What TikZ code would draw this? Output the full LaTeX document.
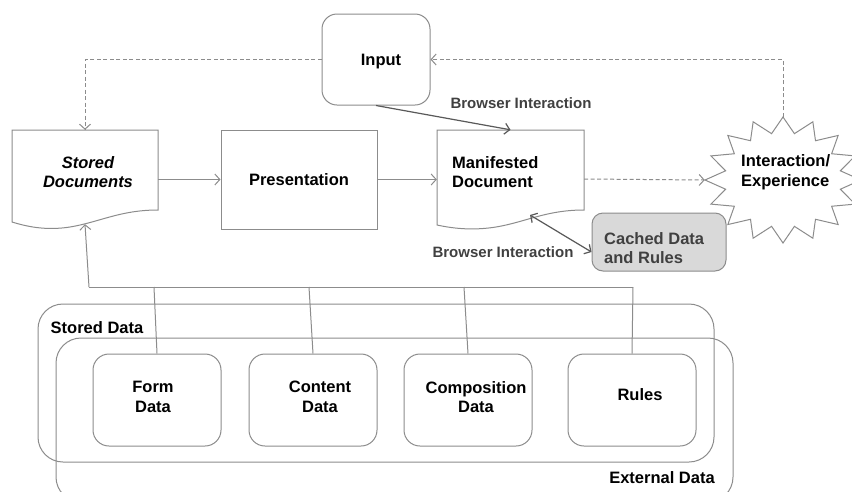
\documentclass[tikz,border=0pt]{standalone}
\usepackage{fontspec}
\setmainfont{Liberation Sans}
\usetikzlibrary{arrows.meta,calc}
\definecolor{ln}{HTML}{8C8C8C}
\definecolor{dk}{HTML}{595959}
\definecolor{tx}{HTML}{404040}
\definecolor{cf}{HTML}{D9D9D9}
\begin{document}
\begin{tikzpicture}[x=1pt,y=-1pt,
  lbl/.style={font=\fontsize{16.5}{19.5}\selectfont\bfseries, inner sep=0pt},
  bilbl/.style={font=\fontsize{15}{18}\selectfont\bfseries, text=tx, inner sep=0pt},
  ghost/.style={draw=none, inner sep=0pt},
  sqbox/.style={draw=ln, line width=1pt, inner sep=0pt},
  rbox/.style={draw=ln, line width=1pt, inner sep=0pt, rounded corners=16pt},
  line/.style={draw=ln, line width=1pt},
  arr/.style={draw=ln, line width=1pt, -{Straight Barb[length=5pt,width=11pt]}},
  darr/.style={draw=ln, line width=1pt, dash pattern=on 4pt off 2.5pt, -{Straight Barb[length=5pt,width=11pt]}},
  barr/.style={draw=dk, line width=1.2pt, -{Straight Barb[length=5pt,width=11pt]}},
  bbarr/.style={draw=dk, line width=1.2pt, {Straight Barb[length=5pt,width=11pt]}-{Straight Barb[length=5pt,width=11pt]}},
]
\useasboundingbox (0,0) rectangle (852,491);
\clip (0,0) rectangle (852,491);
\fill[white] (0,0) rectangle (852,491);

% ---- bottom containers
\draw[line, rounded corners=25pt] (38,304) rectangle (714,462);
\draw[line, rounded corners=25pt] (56,338) rectangle (733,502);
\node[lbl, anchor=center] (sdlbl) at (97,328) {Stored Data};
\node[lbl, anchor=center] (edlbl) at (662,478) {External Data};

% ---- inner data boxes
\node[rbox, minimum width=128pt, minimum height=92pt] (form) at (157,400) {};
\node[rbox, minimum width=128pt, minimum height=92pt] (content) at (313,400) {};
\node[rbox, minimum width=128pt, minimum height=92pt] (comp) at (468,400) {};
\node[rbox, minimum width=128pt, minimum height=92pt] (rules) at (632,400) {};
\node[lbl, align=center] (formt) at (153,397) {Form\\Data};
\node[lbl, align=center] (contentt) at (320,397) {Content\\Data};
\node[lbl, align=center] (compt) at (476,397) {Composition\\Data};
\node[lbl, align=center] (rulest) at (640,395) {Rules};

% ---- stored documents (document shape)
\node[ghost, minimum width=146pt, minimum height=94pt] (sd) at (85,177) {};
\draw[line] (12,130) -- (158,130) -- (158,210)
  .. controls (120,210) and (100,222) .. (70,227)
  .. controls (45,231) and (25,226) .. (12,222) -- cycle;
\node[lbl, align=center, font=\fontsize{16.5}{19.5}\selectfont\bfseries\itshape] (sdt) at (88,172) {Stored\\Documents};

% ---- presentation
\node[sqbox, minimum width=156pt, minimum height=99pt, lbl] (pres) at (299,179.5) {Presentation};

% ---- manifested document
\node[ghost, minimum width=147pt, minimum height=98pt] (man) at (510.5,179) {};
\draw[line] (437,130) -- (584,130) -- (584,210)
  .. controls (546,210) and (526,222) .. (496,227)
  .. controls (471,231) and (451,228) .. (437,225) -- cycle;
\node[lbl, align=left, anchor=west] (mant) at (452,172) {Manifested\\Document};
\coordinate (mw) at (530,215);

% ---- input
\node[rbox, rounded corners=15pt, minimum width=108pt, minimum height=91pt] (input) at (376,59.5) {};
\node[lbl] (inputt) at (381,62) {Input};

% ---- interaction / experience star
\node[ghost, minimum width=156pt, minimum height=126pt] (inter) at (783,180) {};
\draw[line] plot[samples at={0,...,31}]
  ({783+78*(mod(\x,2)==0?1:0.75)*cos(90+\x*11.25)},
   {180-63*(mod(\x,2)==0?1:0.75)*sin(90+\x*11.25)}) -- cycle;
\node[lbl, align=left, anchor=west] (intert) at (741,172) {Interaction/\\Experience};

% ---- cached data
\node[draw=ln, fill=cf, line width=1pt, rounded corners=11pt, minimum width=134pt, minimum height=58pt] (cached) at (659,242) {};
\node[lbl, text=tx, align=left, anchor=west] (cachedt) at (604,248) {Cached Data\\and Rules};

% ---- main flow
\draw[arr] (sd.east |- pres.west) -- (pres.west);
\draw[arr] (pres.east) -- (man.west |- pres.east);
\draw[darr] (man.east) -- (inter.west);
\draw[darr] (inter.north) |- (input.east);
\draw[darr] (input.west) -| (sd.north);

% ---- browser interactions
\draw[barr] (input.south) -- (man.north);
\node[bilbl] (bi1) at (521,103) {Browser Interaction};
\draw[bbarr] (mw) -- ($(cached.west)+(0,10)$);
\node[bilbl] (bi2) at (503,252) {Browser Interaction};

% ---- feedback bus from stored data
\coordinate (b0) at (89,287);
\coordinate (b1) at (154,287);
\coordinate (b2) at (309,287);
\coordinate (b3) at (464,287);
\coordinate (b4) at (633,287);
\draw[line] (b0) -- (b4);
\draw[arr] (b0) -- (sd.south);
\draw[line] (form.north) -- (b1);
\draw[line] (content.north) -- (b2);
\draw[line] (comp.north) -- (b3);
\draw[line] (rules.north) -- (b4);
\end{tikzpicture}
\end{document}
